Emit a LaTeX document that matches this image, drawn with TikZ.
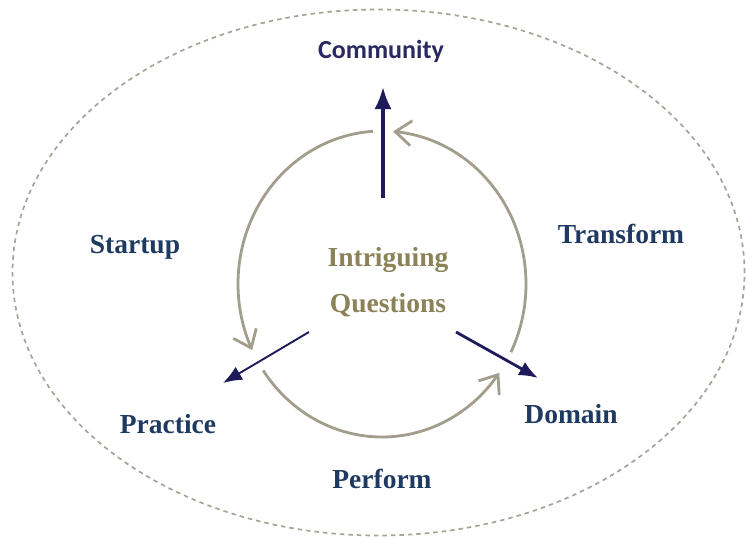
\documentclass[tikz,border=0pt]{standalone}
\usepackage{fontspec}
\setmainfont{Liberation Serif}
\newfontfamily\labelsans{Carlito}
\usetikzlibrary{arrows.meta}
\definecolor{navyink}{HTML}{1F1B5B}
\definecolor{labelblue}{HTML}{1F3A60}
\definecolor{commink}{HTML}{2B2960}
\definecolor{olivetext}{HTML}{8C8257}
\definecolor{cyclegray}{HTML}{A39D8C}
\definecolor{dashgray}{HTML}{A8A396}

\begin{document}
\begin{tikzpicture}[x=1pt,y=-1pt,
  phase/.style={font=\fontsize{27.5}{30}\selectfont\bfseries, text=labelblue, anchor=base, inner sep=0pt},
  core/.style={font=\fontsize{27.5}{30}\selectfont\bfseries, text=olivetext, anchor=base, inner sep=0pt},
  cyclearc/.style={draw=cyclegray, line width=2.8pt, -{Straight Barb[length=16pt,width=25pt]}},
  push/.style={draw=navyink, line width=3.2pt, -{Latex[length=22pt,width=17pt]}},
]
\useasboundingbox (0,0) rectangle (747,539);

% outer dashed boundary
\draw[dashgray, line width=1.7pt, dash pattern=on 4.5pt off 4pt]
  (378.5,272.5) ellipse [x radius=366pt, y radius=263pt];

% the three arcs of the cycle
\draw[cyclearc] plot[domain=266.4:154.4, samples=80, variable=\t]
  ({382+144*cos(\t)}, {284+153*sin(\t)});
\draw[cyclearc] plot[domain=145.6:35.5, samples=80, variable=\t]
  ({382+144*cos(\t)}, {284+153*sin(\t)});
\draw[cyclearc] plot[domain=26.5:-85.6, samples=80, variable=\t]
  ({382+144*cos(\t)}, {284+153*sin(\t)});

% labels
\node[font=\labelsans\fontsize{26}{30}\selectfont\bfseries, text=commink, anchor=base, inner sep=0pt]
  (community) at (381,58) {Community};
\node[phase] (startup) at (135,253) {Startup};
\node[phase] (transform) at (621,243) {Transform};
\node[phase] (practice) at (168,433) {Practice};
\node[phase] (domain) at (571,423) {Domain};
\node[phase] (perform) at (382,488) {Perform};
\node[core] (q1) at (388,266) {Intriguing};
\node[core] (q2) at (388,312) {Questions};

% outward arrows from the centre
\coordinate (upS) at (383,198);
\coordinate (upE) at (383,87);
\coordinate (leftS) at (309,332);
\coordinate (leftE) at (223,383);
\coordinate (rightS) at (456,332);
\coordinate (rightE) at (538,378);
\draw[push] (upS) -- (upE);
\draw[push, line width=1.9pt, -{Latex[length=19pt,width=15pt]}] (leftS) -- (leftE);
\draw[push, line width=2.8pt, -{Latex[length=19pt,width=15pt]}] (rightS) -- (rightE);
\end{tikzpicture}
\end{document}
